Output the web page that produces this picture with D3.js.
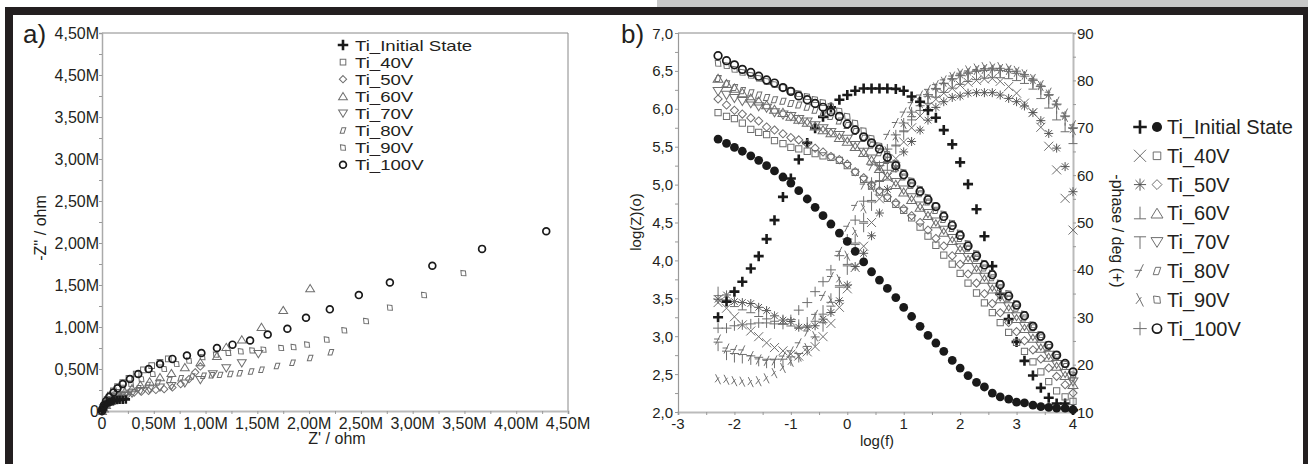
<!DOCTYPE html>
<html><head><meta charset="utf-8">
<script src="https://cdn.jsdelivr.net/npm/d3@7"></script>
<style>body{margin:0;background:#fff}svg{display:block}text{font-family:"Liberation Sans",Arial,sans-serif;fill:#231f20}</style>
</head><body><svg id="c" width="1308" height="464"></svg>
<script>
// ---------- DATA ----------
const seriesNames = ["Ti_Initial State","Ti_40V","Ti_50V","Ti_60V","Ti_70V","Ti_80V","Ti_90V","Ti_100V"];
// Nyquist (Z' , -Z'') in M ohm
const nyqInitial = [[0,0],[0.005,0.02],[0.01,0.04],[0.02,0.06],[0.03,0.075],[0.045,0.09],[0.06,0.10],[0.08,0.11],[0.10,0.12],[0.12,0.125],[0.145,0.13],[0.17,0.133],[0.20,0.135],[0.23,0.138]];
const nyq40 = [[0,0],[0.01,0.04],[0.03,0.09],[0.05,0.14],[0.08,0.19],[0.11,0.24],[0.15,0.29],[0.20,0.34],[0.26,0.39],[0.33,0.44],[0.40,0.49],[0.48,0.54],[0.56,0.58],[0.64,0.62]];
const nyq50 = [[0,0],[0.02,0.03],[0.04,0.06],[0.07,0.09],[0.10,0.12],[0.14,0.15],[0.19,0.18],[0.25,0.20],[0.31,0.22],[0.38,0.23],[0.45,0.24],[0.52,0.25],[0.60,0.26],[0.68,0.28],[0.76,0.32],[0.84,0.38],[0.90,0.46],[0.95,0.53]];
const nyq60 = [[0,0],[0.02,0.03],[0.04,0.07],[0.07,0.11],[0.11,0.15],[0.16,0.19],[0.22,0.23],[0.29,0.27],[0.37,0.31],[0.46,0.35],[0.56,0.40],[0.67,0.45],[0.80,0.52],[0.95,0.58],[1.11,0.655],[1.20,0.76],[1.35,0.85],[1.54,1.00],[1.75,1.20],[2.01,1.46]];
const nyq70 = [[0,0],[0.02,0.03],[0.04,0.06],[0.07,0.09],[0.11,0.12],[0.16,0.15],[0.22,0.18],[0.29,0.21],[0.37,0.24],[0.46,0.26],[0.56,0.28],[0.67,0.30],[0.80,0.33],[0.95,0.37],[1.07,0.44],[1.20,0.51],[1.35,0.57],[1.51,0.68]];
const nyq80 = [[0,0],[0.02,0.03],[0.05,0.07],[0.09,0.11],[0.14,0.15],[0.20,0.19],[0.27,0.23],[0.35,0.27],[0.44,0.31],[0.54,0.34],[0.65,0.37],[0.76,0.39],[0.87,0.41],[0.98,0.42],[1.06,0.425],[1.14,0.43],[1.24,0.44],[1.33,0.45],[1.44,0.47],[1.54,0.49],[1.69,0.535],[1.84,0.575],[2.01,0.63],[2.21,0.70]];
const nyq90 = [[0,0],[0.02,0.04],[0.05,0.09],[0.09,0.14],[0.14,0.20],[0.20,0.26],[0.28,0.32],[0.38,0.38],[0.49,0.44],[0.60,0.50],[0.72,0.56],[0.84,0.60],[0.97,0.64],[1.10,0.67],[1.22,0.69],[1.34,0.71],[1.45,0.72],[1.56,0.73],[1.73,0.75],[1.85,0.76],[1.98,0.79],[2.17,0.85],[2.34,0.96],[2.55,1.07],[2.78,1.23],[3.11,1.38],[3.49,1.64]];
const nyq100 = [[0,0],[0.01,0.03],[0.02,0.07],[0.04,0.12],[0.07,0.17],[0.11,0.22],[0.15,0.27],[0.20,0.32],[0.27,0.38],[0.35,0.44],[0.45,0.50],[0.56,0.56],[0.68,0.62],[0.82,0.66],[0.96,0.69],[1.11,0.75],[1.26,0.79],[1.43,0.84],[1.60,0.91],[1.79,0.98],[1.97,1.11],[2.20,1.21],[2.48,1.38],[2.78,1.53],[3.19,1.73],[3.67,1.93],[4.29,2.14]];
const nyqXTicks = ["0","0,50M","1,00M","1,50M","2,00M","2,50M","3,00M","3,50M","4,00M","4,50M"];
const nyqYTicks = ["0","0,50M","1,00M","1,50M","2,00M","2,50M","3,00M","3,50M","4,50M","4,50M"];

// Bode
const logF = [-2.29,-2.14,-2.00,-1.86,-1.71,-1.57,-1.43,-1.29,-1.14,-1.00,-0.86,-0.71,-0.57,-0.43,-0.29,-0.14,0.00,0.14,0.29,0.43,0.57,0.71,0.86,1.00,1.14,1.29,1.43,1.57,1.71,1.86,2.00,2.14,2.29,2.43,2.57,2.71,2.86,3.00,3.14,3.29,3.43,3.57,3.71,3.86,4.00];
const zInitial = [5.60,5.545,5.49,5.44,5.38,5.32,5.25,5.18,5.10,5.02,4.92,4.81,4.70,4.59,4.48,4.36,4.25,4.12,3.98,3.85,3.74,3.63,3.51,3.38,3.26,3.13,3.01,2.91,2.80,2.68,2.58,2.48,2.39,2.33,2.25,2.20,2.17,2.13,2.12,2.09,2.07,2.06,2.05,2.05,2.03];
const z40 = [5.95,5.90,5.87,5.81,5.73,5.69,5.66,5.58,5.54,5.49,5.47,5.44,5.41,5.38,5.36,5.32,5.25,5.16,5.07,4.98,4.90,4.82,4.74,4.66,4.56,4.44,4.32,4.20,4.07,3.95,3.83,3.70,3.57,3.44,3.31,3.18,3.05,2.92,2.80,2.66,2.53,2.40,2.28,2.20,2.14];
const z50 = [6.13,6.05,5.98,5.93,5.88,5.84,5.76,5.72,5.67,5.62,5.59,5.54,5.48,5.43,5.37,5.33,5.27,5.17,5.09,5.00,4.92,4.84,4.76,4.68,4.59,4.50,4.40,4.29,4.19,4.06,3.95,3.82,3.70,3.56,3.43,3.31,3.18,3.06,2.94,2.82,2.70,2.58,2.47,2.36,2.25];
const z60 = [6.40,6.33,6.27,6.21,6.14,6.10,6.05,5.99,5.95,5.90,5.86,5.82,5.77,5.72,5.68,5.62,5.57,5.50,5.42,5.32,5.21,5.11,5.00,4.90,4.80,4.70,4.59,4.48,4.37,4.26,4.14,4.01,3.88,3.75,3.62,3.49,3.36,3.23,3.10,2.97,2.84,2.72,2.60,2.48,2.36];
const z70 = [6.23,6.18,6.14,6.10,6.07,6.03,6.01,5.95,5.92,5.90,5.86,5.83,5.78,5.74,5.69,5.65,5.60,5.52,5.43,5.34,5.24,5.14,5.03,4.93,4.83,4.72,4.62,4.51,4.40,4.29,4.17,4.04,3.91,3.78,3.65,3.52,3.39,3.26,3.13,3.00,2.87,2.75,2.63,2.51,2.40];
const z80 = [6.40,6.33,6.28,6.24,6.21,6.18,6.15,6.12,6.10,6.07,6.05,6.02,5.98,5.94,5.90,5.84,5.78,5.70,5.61,5.52,5.42,5.32,5.21,5.10,4.99,4.88,4.77,4.66,4.54,4.42,4.29,4.16,4.03,3.90,3.77,3.64,3.50,3.37,3.24,3.11,2.98,2.85,2.72,2.60,2.46];
const z90 = [6.60,6.57,6.52,6.48,6.44,6.40,6.36,6.32,6.28,6.24,6.20,6.16,6.12,6.08,6.03,5.97,5.90,5.81,5.71,5.61,5.51,5.40,5.28,5.16,5.05,4.94,4.83,4.72,4.61,4.49,4.36,4.22,4.09,3.96,3.83,3.70,3.56,3.43,3.29,3.15,3.02,2.89,2.76,2.63,2.49];
const z100 = [6.70,6.635,6.58,6.52,6.48,6.43,6.38,6.34,6.28,6.23,6.17,6.12,6.07,6.02,5.96,5.90,5.80,5.72,5.63,5.55,5.47,5.36,5.25,5.13,5.02,4.91,4.80,4.71,4.58,4.46,4.33,4.19,4.06,3.94,3.81,3.68,3.53,3.41,3.27,3.13,3.00,2.88,2.75,2.64,2.53];
const pInitial = [30.0,33.3,35.4,37.5,40.3,42.9,46.5,50.5,55.4,59.3,63.3,66.8,69.9,72.3,74.3,75.9,76.9,77.8,78.3,78.3,78.3,78.3,78.2,77.8,76.6,75.5,73.7,72.1,69.5,66.5,62.7,58.1,52.8,47.1,40.8,34.9,29.6,24.8,20.8,17.7,15.1,13.0,11.8,11.8,10.4];
const p40 = [33.1,31.9,30.1,28.4,27.1,25.9,24.6,23.6,22.9,22.2,21.8,22.7,23.8,25.9,28.7,32.1,36.0,40.5,45.0,50.0,55.0,59.5,63.5,67.0,70.0,72.5,74.5,76.0,77.3,78.3,79.0,79.6,80.0,80.3,80.4,79.8,78.7,77.3,75.2,73.2,70.1,66.1,61.1,55.1,48.4];
const p50 = [33.8,34.7,33.3,33.1,32.9,32.1,31.4,30.3,29.4,29.1,27.9,27.9,28.2,29.6,31.0,33.5,36.8,40.7,43.5,47.2,52.0,57.0,61.5,64.9,67.1,69.5,71.6,74.3,75.5,76.4,76.7,77.3,77.4,77.4,77.4,76.9,76.2,75.5,74.6,73.2,71.5,68.8,65.7,61.8,56.5];
const p60 = [35.4,34.5,33.1,32.4,31.8,31.0,30.5,30.0,29.5,29.0,28.5,29.0,30.0,31.5,34.0,37.5,42.0,46.5,51.0,55.5,59.5,63.5,67.0,70.0,72.5,74.5,76.0,77.3,78.3,79.2,80.0,80.6,81.0,81.3,81.4,81.4,81.2,80.8,80.2,79.0,77.0,75.0,72.5,70.0,67.5];
const p70 = [23.9,22.0,21.5,21.3,21.0,20.7,20.3,20.3,20.3,20.8,21.5,23.0,25.0,28.0,31.5,35.5,40.0,44.5,49.0,53.5,58.0,62.0,65.5,68.5,71.5,73.8,75.8,77.3,78.5,79.5,80.3,80.9,81.3,81.6,81.7,81.7,81.5,81.1,80.4,79.4,78.0,76.0,74.0,71.5,69.0];
const p80 = [25.3,23.4,23.1,23.0,21.8,21.1,20.8,20.9,21.7,22.8,24.5,27.0,30.5,34.5,38.5,43.8,49.1,53.5,58.0,62.0,65.5,68.5,71.0,73.2,75.2,76.8,78.0,79.0,80.0,80.8,81.4,81.9,82.2,82.4,82.5,82.4,82.2,81.8,81.2,80.3,79.0,77.4,75.5,73.0,70.5];
const p90 = [16.9,16.8,16.5,16.4,16.3,16.5,17.1,18.2,19.3,20.6,21.7,23.5,26.0,29.5,33.5,38.0,43.0,48.0,53.0,57.5,61.5,65.0,68.0,70.8,73.2,75.2,77.0,78.5,79.7,80.7,81.5,82.1,82.5,82.8,82.9,82.8,82.5,82.0,81.3,80.3,78.8,77.0,74.8,72.3,69.5];
const p100 = [27.7,27.7,28.2,28.4,28.6,28.8,28.8,28.6,28.5,29.5,31.5,33.1,35.4,37.5,40.0,43.0,46.5,50.5,54.5,58.5,62.0,65.5,68.5,71.0,73.3,75.3,77.0,78.3,79.4,80.3,81.0,81.5,81.9,82.1,82.2,82.1,81.9,81.5,80.9,80.0,78.7,77.0,75.0,72.5,70.0];
const bodeXTicks = ["-3","-2","-1","0","1","2","3","4"];
const bodeYTicks = ["2,0","2,5","3,0","3,5","4,0","4,5","5,0","5,5","6,0","6,5","7,0"];
const bodeY2Ticks = ["10","20","30","40","50","60","70","80","90"];

// ---------- SYMBOLS ----------
const G = "#6e6e6e", K = "#1a1a1a";
const SYM = {
  plusBold:{d:"M-5,0H5M0,-5V5",s:K,w:2.6},
  plus:{d:"M-5,0H5M0,-5V5",s:G,w:1},
  cross:{d:"M-4.5,-4.5L4.5,4.5M-4.5,4.5L4.5,-4.5",s:G,w:1},
  aster:{d:"M-4.5,0H4.5M0,-4.5V4.5M-3.3,-3.3L3.3,3.3M-3.3,3.3L3.3,-3.3",s:"#555",w:1},
  upTack:{d:"M0,-5V4M-4.5,4H4.5",s:G,w:1},
  downTack:{d:"M0,-4V5M-4.5,-4H4.5",s:G,w:1},
  slash80:{d:"M-2.5,5L2.5,-5M-4,-0.5H1.5",s:G,w:1},
  back90:{d:"M-2.5,-5L2.5,5M-3,3L1,-2",s:G,w:1},
  square:{d:"M-3.3,-3.3H3.3V3.3H-3.3Z",s:G,w:1},
  diamond:{d:"M0,-4.3L4.3,0L0,4.3L-4.3,0Z",s:G,w:1},
  triUp:{d:"M0,-4.5L5.2,4L-5.2,4Z",s:G,w:1},
  triDown:{d:"M0,4.5L5.2,-4L-5.2,-4Z",s:G,w:1},
  para:{d:"M-1.2,-3.2H3.3L1.2,3.2H-3.3Z",s:G,w:1},
  quad:{d:"M-3,-3.3L2.4,-2.6L3,3L-2.4,2.8Z",s:G,w:1},
  circle:{d:"M4,0A4,4 0 1,1 -4,0A4,4 0 1,1 4,0Z",s:K,w:1.7},
  dot:{d:"M4.4,0A4.4,4.4 0 1,1 -4.4,0A4.4,4.4 0 1,1 4.4,0Z",s:"none",w:0,fill:K}
};
function drawSym(g, type, x, y, k=1){
  const s = SYM[type];
  g.append("path").attr("d", s.d).attr("transform",`translate(${x},${y}) scale(${k})`)
   .attr("fill", s.fill||"none").attr("stroke", s.s).attr("stroke-width", s.w/k);
}

const svg = d3.select("#c");
// frame
svg.append("rect").attr("x",0).attr("y",0).attr("width",1308).attr("height",464).attr("fill","#fff");
svg.append("rect").attr("x",657).attr("y",0).attr("width",651).attr("height",7).attr("fill","#c8c8c8");
svg.append("rect").attr("x",5).attr("y",7).attr("width",1303).attr("height",8).attr("fill","#231f20");
svg.append("rect").attr("x",5).attr("y",7).attr("width",8).attr("height",457).attr("fill","#231f20");
svg.append("rect").attr("x",1303).attr("y",7).attr("width",5).attr("height",457).attr("fill","#231f20");

// ---------- PANEL A ----------
const ax = d3.scaleLinear().domain([0,4.5]).range([102,568]);
const ay = d3.scaleLinear().domain([0,4.5]).range([411,33]);
const ga = svg.append("g");
ga.append("line").attr("x1",ax(0)).attr("x2",ax(4.5)).attr("y1",ay(4.5)).attr("y2",ay(4.5)).attr("stroke","#888").attr("stroke-width",1);
ga.append("line").attr("x1",ax(4.5)).attr("x2",ax(4.5)).attr("y1",ay(4.5)).attr("y2",ay(0)).attr("stroke","#888").attr("stroke-width",1);
const axB = d3.axisBottom(ax).tickValues(d3.range(0,4.51,0.25)).tickSize(3).tickFormat("");
ga.append("g").attr("transform",`translate(0,${ay(0)})`).call(axB).call(g=>{g.select(".domain").attr("stroke","#bbb").attr("stroke-width",2);g.selectAll("line").attr("stroke","#999");});
const axL = d3.axisLeft(ay).tickValues(d3.range(0,4.51,0.25)).tickSize(3).tickFormat("");
ga.append("g").attr("transform",`translate(${ax(0)},0)`).call(axL).call(g=>{g.select(".domain").attr("stroke","#aaa").attr("stroke-width",1.5);g.selectAll("line").attr("stroke","#999");});
nyqXTicks.forEach((t,i)=>ga.append("text").attr("x",ax(i*0.5)).attr("y",429).attr("text-anchor","middle").attr("font-size",16).text(t));
nyqYTicks.forEach((t,i)=>ga.append("text").attr("x",99).attr("y",ay(i*0.5)+6).attr("text-anchor","end").attr("font-size",16).text(t));
ga.append("text").attr("x",337).attr("y",444).attr("text-anchor","middle").attr("font-size",16).text("Z' / ohm");
ga.append("text").attr("transform","translate(46,228) rotate(-90)").attr("text-anchor","middle").attr("font-size",16).text("-Z'' / ohm");
ga.append("text").attr("x",23).attr("y",43).attr("font-size",26).text("a)");

const nyqSets = [[nyq40,"square"],[nyq50,"diamond"],[nyq60,"triUp"],[nyq70,"triDown"],[nyq80,"para"],[nyq90,"quad"],[nyqInitial,"plusBold"],[nyq100,"circle"]];
nyqSets.forEach(([arr,t])=>arr.forEach(d=>drawSym(ga,t,ax(d[0]),ay(d[1]),0.85)));

// legend a : tightly packed rows; glyphs stretched horizontally so rows do not collide
const legA = ["plusBold","square","diamond","triUp","triDown","para","quad","circle"];
const legAy0 = 45, legAdy = 17.1;
legA.forEach((s,i)=>drawSym(ga, s, 343, legAy0 + i*legAdy, s==="plusBold"?1.05:0.85));
seriesNames.forEach((n,i)=>{
  const t = ga.append("text").attr("x",355).attr("y",legAy0 + i*legAdy + 5.5).attr("font-size",15).text(n);
  const w = t.node().getComputedTextLength();
  t.attr("textLength", w*1.24).attr("lengthAdjust","spacingAndGlyphs");
});

// ---------- PANEL B ----------
const bx = d3.scaleLinear().domain([-3,4]).range([678,1073]);
const by = d3.scaleLinear().domain([2,7]).range([412,33]);
const by2 = d3.scaleLinear().domain([10,90]).range([412,33]);
const gb = svg.append("g");
gb.append("line").attr("x1",bx(-3)).attr("x2",bx(4)).attr("y1",33).attr("y2",33).attr("stroke","#888");
gb.append("g").attr("transform",`translate(0,${by(2)})`).call(d3.axisBottom(bx).tickValues(d3.range(-3,4.01,0.5)).tickSize(3).tickFormat(""))
  .call(g=>{g.select(".domain").attr("stroke","#bbb").attr("stroke-width",2);g.selectAll("line").attr("stroke","#999");});
gb.append("g").attr("transform",`translate(${bx(-3)},0)`).call(d3.axisLeft(by).tickValues(d3.range(2,7.01,0.25)).tickSize(3).tickFormat(""))
  .call(g=>{g.select(".domain").attr("stroke","#999").attr("stroke-width",1.2);g.selectAll("line").attr("stroke","#999");});
gb.append("g").attr("transform",`translate(${bx(4)},0)`).call(d3.axisRight(by2).tickValues(d3.range(10,90.1,5)).tickSize(3).tickFormat(""))
  .call(g=>{g.select(".domain").attr("stroke","#bbb").attr("stroke-width",2);g.selectAll("line").attr("stroke","#999");});
bodeXTicks.forEach((t,i)=>gb.append("text").attr("x",bx(i-3)).attr("y",429).attr("text-anchor","middle").attr("font-size",15).text(t));
bodeYTicks.forEach((t,i)=>gb.append("text").attr("x",673).attr("y",by(2+i*0.5)+5.5).attr("text-anchor","end").attr("font-size",15).text(t));
bodeY2Ticks.forEach((t,i)=>gb.append("text").attr("x",1077).attr("y",by2(10+i*10)+5.5).attr("font-size",15).text(t));
gb.append("text").attr("x",877).attr("y",446).attr("text-anchor","middle").attr("font-size",15).text("log(f)");
gb.append("text").attr("transform","translate(641,222) rotate(-90)").attr("text-anchor","middle").attr("font-size",15).text("log(Z)(o)");
gb.append("text").attr("transform","translate(1112,231) rotate(90)").attr("text-anchor","middle").attr("font-size",16).text("-phase / deg (+)");
gb.append("text").attr("x",621).attr("y",43).attr("font-size",26).text("b)");

const zSets = [[z40,"square"],[z50,"diamond"],[z60,"triUp"],[z70,"triDown"],[z80,"para"],[z90,"quad"],[z100,"circle"],[zInitial,"dot"]];
const pSets = [[p40,"cross"],[p50,"aster"],[p60,"upTack"],[p70,"downTack"],[p80,"slash80"],[p90,"back90"],[p100,"plus"],[pInitial,"plusBold"]];
pSets.forEach(([arr,t])=>arr.forEach((v,i)=>drawSym(gb,t,bx(logF[i]),by2(v),1)));
zSets.forEach(([arr,t])=>arr.forEach((v,i)=>drawSym(gb,t,bx(logF[i]),by(v),t==="dot"?1:0.95)));

// legend b
const legB = [["plusBold","dot"],["cross","square"],["aster","diamond"],["upTack","triUp"],["downTack","triDown"],["slash80","para"],["back90","quad"],["plus","circle"]];
legB.forEach((s,i)=>{
  const y = 127 + i*28.8;
  drawSym(gb, s[0], 1140, y, 1.35);
  drawSym(gb, s[1], 1157, y, 1.15);
  gb.append("text").attr("x",1167).attr("y",y+7).attr("font-size",20).text(seriesNames[i]);
});
</script></body></html>
